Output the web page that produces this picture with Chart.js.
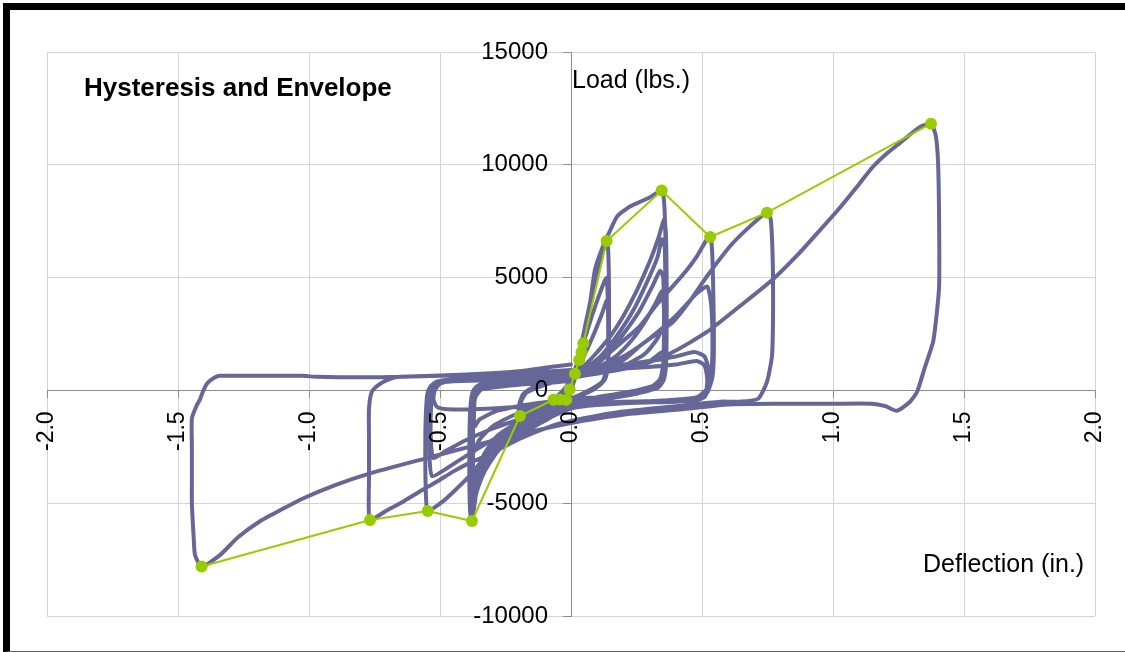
<!DOCTYPE html>
<html>
<head>
<meta charset="utf-8">
<title>Hysteresis and Envelope</title>
<script src="https://cdn.jsdelivr.net/npm/chart.js@4.4.1/dist/chart.umd.min.js"></script>
<style>
  html, body { margin: 0; padding: 0; background: #fff; }
  #frame {
    position: absolute; left: 3px; top: 3px; width: 1130px; height: 649px;
    box-sizing: border-box;
    border-left: 7px solid #000; border-top: 7px solid #000; border-bottom: 1px solid #606060;
  }
  #chart { position: absolute; left: 0; top: 0; }
</style>
</head>
<body>
<div id="frame"></div>
<canvas id="chart" width="1125" height="652"></canvas>
<script>
// Envelope points (deflection in., load lbs.)
const envDeflection = [1.374, 0.748, 0.531, 0.346, 0.136, 0.047, 0.040, 0.031, 0.015, -0.005, -0.018, -0.043, -0.067, -0.195, -0.378, -0.547, -0.767, -1.41];
const envLoad = [11820, 7880, 6800, 8860, 6620, 2090, 1690, 1350, 733, 40, -420, -400, -415, -1135, -5790, -5350, -5745, -7805];

// Hysteresis trace, one block per group of cycles: [deflection, load]
const cyclesSmall = [
  [0, 0], [0.008, 300], [0.015, 733], [0.01, 400], [0.0, 50], [-0.01, -200], [-0.018, -420], [-0.01, -250], [0.0, -50],
  [0.015, 600], [0.031, 1350], [0.022, 800], [0.005, 200], [-0.02, -250], [-0.043, -400], [-0.03, -300], [-0.01, -100],
  [0.01, 400], [0.025, 1100], [0.040, 1690], [0.03, 1000], [0.01, 400], [-0.02, -150], [-0.045, -330], [-0.067, -415],
  [-0.05, -300], [-0.02, 0], [0.01, 600], [0.03, 1400], [0.047, 2090], [0.04, 1500], [0.02, 800], [0.0, 300], [-0.04, -200]
];
const cycle1 = [
  [-0.06, -350], [-0.03, 0], [0.0, 450], [0.02, 1100], [0.04, 2000], [0.06, 3000], [0.08, 4100], [0.1, 5200], [0.115, 5900],
  [0.136, 6620], [0.142, 6200], [0.145, 4500], [0.145, 2500], [0.142, 1200], [0.13, 500], [0.1, 150], [0.05, -150], [0.0, -450],
  [-0.05, -650], [-0.1, -800], [-0.15, -950], [-0.195, -1135], [-0.2, -900], [-0.195, -500], [-0.18, -150], [-0.15, 100],
  [-0.1, 300], [-0.05, 450], [0.0, 650]
];
const cycle1Trail = [
  [0.02, 1100], [0.05, 2200], [0.08, 3300], [0.11, 4300], [0.135, 5000], [0.14, 4200], [0.142, 2500], [0.14, 1000], [0.12, 350],
  [0.08, 0], [0.0, -400], [-0.08, -650], [-0.15, -850], [-0.19, -950], [-0.195, -600], [-0.185, -200], [-0.15, 100], [-0.08, 350], [0.0, 600],
  [0.04, 1300], [0.08, 2300], [0.115, 3300], [0.138, 4000], [0.142, 3000], [0.14, 1200], [0.12, 400], [0.06, -50], [0.0, -350],
  [-0.1, -650], [-0.18, -850], [-0.19, -500], [-0.17, -100], [-0.1, 250], [0.0, 600]
];
const cycle2 = [
  [0.02, 1000], [0.035, 1800], [0.046, 2410], [0.06, 3200], [0.073, 3910], [0.092, 5370], [0.122, 6390], [0.15, 7100], [0.176, 7710],
  [0.225, 8150], [0.3, 8550], [0.346, 8860], [0.355, 8400], [0.36, 7000], [0.362, 5000], [0.362, 3000], [0.36, 1500], [0.35, 600],
  [0.32, 150], [0.25, -150], [0.15, -350], [0.05, -550], [0.0, -700], [-0.05, -1000], [-0.1, -1350], [-0.18, -1850], [-0.26, -2440],
  [-0.32, -3330], [-0.36, -4480], [-0.378, -5790], [-0.385, -5400], [-0.388, -4000], [-0.388, -2500], [-0.386, -1200], [-0.38, -300],
  [-0.37, 50], [-0.35, 250], [-0.3, 400], [-0.2, 550], [-0.1, 700], [0.0, 850]
];
const cycle2Trail = [
  [0.05, 1100], [0.1, 1700], [0.15, 2400], [0.2, 3300], [0.25, 4400], [0.3, 5700], [0.335, 6800], [0.355, 7580], [0.362, 7000],
  [0.365, 5000], [0.365, 2500], [0.362, 1000], [0.35, 400], [0.3, 0], [0.2, -250], [0.1, -450], [0.0, -650], [-0.1, -1200],
  [-0.2, -1900], [-0.28, -2700], [-0.33, -3600], [-0.36, -4500], [-0.375, -5300], [-0.382, -4800], [-0.385, -3000], [-0.383, -1200],
  [-0.378, -300], [-0.36, 100], [-0.3, 300], [-0.15, 500], [0.0, 700],
  [0.06, 1000], [0.12, 1600], [0.18, 2500], [0.24, 3600], [0.29, 4800], [0.33, 5900], [0.347, 6700], [0.358, 6300], [0.36, 4000],
  [0.36, 1800], [0.355, 700], [0.33, 200], [0.25, -100], [0.12, -350], [0.0, -600], [-0.1, -1100], [-0.2, -1700], [-0.28, -2400],
  [-0.33, -3200], [-0.36, -4100], [-0.372, -5000], [-0.38, -4500], [-0.382, -2800], [-0.38, -1000], [-0.372, -200], [-0.35, 150],
  [-0.28, 350], [-0.1, 550], [0.0, 700],
  [0.08, 1000], [0.14, 1600], [0.2, 2500], [0.26, 3500], [0.31, 4600], [0.34, 5300], [0.352, 5000], [0.355, 3000], [0.352, 1200],
  [0.34, 500], [0.3, 100], [0.2, -150], [0.08, -400], [0.0, -550], [-0.1, -1000], [-0.2, -1550], [-0.28, -2200], [-0.33, -3000],
  [-0.362, -3900], [-0.375, -4700], [-0.378, -3500], [-0.378, -1500], [-0.375, -400], [-0.36, 0], [-0.3, 250], [-0.15, 450], [0.0, 650],
  [0.1, 1000], [0.17, 1500], [0.23, 2200], [0.28, 3000], [0.32, 3800], [0.348, 4400], [0.355, 3500], [0.356, 2000], [0.352, 900],
  [0.33, 300], [0.25, 0], [0.1, -300], [0.0, -500], [-0.1, -900], [-0.2, -1400], [-0.28, -2000], [-0.33, -2800], [-0.36, -3600],
  [-0.372, -4200], [-0.374, -3000], [-0.373, -1200], [-0.368, -300], [-0.35, 50], [-0.28, 250], [-0.12, 450], [0.0, 600],
  [0.1, 800], [0.2, 1100], [0.28, 1600], [0.33, 2300], [0.352, 2800], [0.358, 2000], [0.356, 900], [0.34, 300], [0.28, 0],
  [0.15, -250], [0.0, -450], [-0.12, -700], [-0.22, -1100], [-0.3, -1600], [-0.35, -2200], [-0.37, -2700], [-0.375, -1800],
  [-0.373, -700], [-0.365, -100], [-0.33, 150], [-0.2, 350], [0.0, 550],
  [0.1, 750], [0.2, 950], [0.3, 1300], [0.35, 1700], [0.358, 1200], [0.355, 500], [0.33, 100], [0.2, -200], [0.0, -400],
  [-0.15, -600], [-0.28, -900], [-0.35, -1300], [-0.368, -1600], [-0.37, -900], [-0.365, -300], [-0.34, 50], [-0.2, 250], [0.0, 450]
];
const cycle3 = [
  [0.05, 1000], [0.1, 1300], [0.15, 1700], [0.2, 2200], [0.263, 2850], [0.32, 3700], [0.389, 4620], [0.44, 5300], [0.481, 5950],
  [0.519, 6700], [0.531, 6800], [0.538, 6300], [0.542, 5000], [0.545, 3000], [0.545, 1500], [0.54, 600], [0.52, -100], [0.48, -400],
  [0.4, -500], [0.25, -550], [0.1, -650], [0.0, -800], [-0.08, -1200], [-0.16, -1700], [-0.25, -2300], [-0.33, -3000], [-0.385, -3770],
  [-0.44, -4400], [-0.489, -4920], [-0.547, -5350], [-0.553, -4800], [-0.556, -3500], [-0.556, -2000], [-0.553, -800], [-0.548, -150],
  [-0.535, 200], [-0.51, 400], [-0.45, 500], [-0.3, 600], [-0.15, 700], [0.0, 850]
];
const cycle3Trail = [
  [0.1, 1000], [0.2, 1500], [0.3, 2300], [0.4, 3300], [0.48, 4300], [0.52, 4600], [0.535, 3800], [0.54, 2000], [0.535, 800],
  [0.52, 100], [0.48, -300], [0.35, -450], [0.15, -550], [0.0, -700], [-0.1, -1100], [-0.2, -1600], [-0.3, -2200], [-0.4, -2900],
  [-0.48, -3500], [-0.53, -3800], [-0.54, -3000], [-0.54, -1500], [-0.537, -400], [-0.527, 100], [-0.5, 350], [-0.4, 450],
  [-0.2, 550], [0.0, 750],
  [0.1, 1000], [0.2, 1150], [0.3, 1300], [0.4, 1500], [0.47, 1700], [0.51, 1500], [0.525, 900], [0.525, 200], [0.51, -300],
  [0.47, -450], [0.35, -500], [0.2, -550], [0.05, -650], [0.0, -750], [-0.1, -1000], [-0.2, -1300], [-0.3, -1700], [-0.4, -2200],
  [-0.48, -2700], [-0.525, -3000], [-0.535, -2200], [-0.535, -1000], [-0.53, -200], [-0.515, 200], [-0.48, 380], [-0.35, 450],
  [-0.15, 600], [0.0, 800],
  [0.1, 900], [0.25, 1000], [0.4, 1150], [0.48, 1300], [0.51, 1100], [0.52, 500], [0.515, -100], [0.49, -350], [0.4, -450],
  [0.2, -500], [0.0, -600], [-0.15, -700], [-0.3, -800], [-0.45, -850], [-0.51, -750], [-0.525, -400], [-0.52, 0], [-0.5, 300],
  [-0.45, 400], [-0.3, 450], [-0.1, 550], [0.0, 700]
];
const cycle4 = [
  [0.1, 1000], [0.2, 1350], [0.263, 1970], [0.32, 2450], [0.389, 3030], [0.45, 3900], [0.519, 5060], [0.607, 6390], [0.683, 7270],
  [0.748, 7880], [0.762, 7600], [0.768, 6500], [0.771, 5000], [0.771, 3030], [0.767, 1520], [0.748, 380], [0.714, -370], [0.645, -500],
  [0.57, -500], [0.4, -700], [0.19, -950], [0.0, -1350], [-0.07, -1560], [-0.195, -2140], [-0.32, -2880], [-0.385, -3200],
  [-0.45, -3600], [-0.511, -4040], [-0.58, -4500], [-0.64, -4920], [-0.7, -5300], [-0.767, -5745], [-0.772, -5200], [-0.771, -3780],
  [-0.771, -2200], [-0.771, -810], [-0.76, -60], [-0.729, 292], [-0.69, 512], [-0.653, 600], [-0.5, 650], [-0.3, 720],
  [-0.15, 800], [0.0, 900]
];
const cycle5 = [
  [0.1, 950], [0.2, 1000], [0.263, 1090], [0.389, 1700], [0.519, 2590], [0.645, 3740], [0.771, 4930], [0.874, 6120], [0.95, 7100],
  [1.027, 8110], [1.09, 9000], [1.149, 9870], [1.2, 10450], [1.256, 10970], [1.332, 11680], [1.374, 11820], [1.392, 11300],
  [1.401, 10100], [1.405, 7500], [1.405, 4620], [1.395, 3300], [1.382, 2150], [1.35, 1000], [1.321, -60], [1.294, -500],
  [1.244, -900], [1.2, -700], [1.149, -590], [1.0, -590], [0.8, -590], [0.6, -620], [0.45, -800], [0.237, -1030], [0.1, -1250],
  [0.0, -1450], [-0.2, -1950], [-0.385, -2490], [-0.55, -3000], [-0.767, -3680], [-0.9, -4200], [-1.023, -4790], [-1.1, -5250],
  [-1.187, -5800], [-1.27, -6500], [-1.34, -7300], [-1.41, -7805], [-1.435, -7300], [-1.44, -6550], [-1.447, -5000],
  [-1.447, -3900], [-1.447, -2500], [-1.447, -1250], [-1.43, -700], [-1.416, -400], [-1.405, -60], [-1.39, 290], [-1.37, 500],
  [-1.34, 645], [-1.2, 645], [-1.023, 645], [-0.969, 600], [-0.8, 580], [-0.653, 600], [-0.4, 700], [-0.2, 850], [-0.08, 1040], [0.0, 1150]
];

// Axis ticks
const xTicks = [-2.0, -1.5, -1.0, -0.5, 0.0, 0.5, 1.0, 1.5, 2.0];
const yTicks = [-10000, -5000, 0, 5000, 10000, 15000];

const FONT = "'Liberation Sans', Arial, sans-serif";

const hysteresis = [].concat(cyclesSmall, cycle1, cycle1Trail, cycle2, cycle2Trail, cycle3, cycle3Trail, cycle4, cycle5)
  .map(p => ({ x: p[0], y: p[1] }));
const envelope = envDeflection.map((d, i) => ({ x: d, y: envLoad[i] }));

// Axes cross inside the plot, so they should not push the plot edges in
function noEdgePadding(scale) {
  scale.paddingLeft = 0;
  scale.paddingRight = 0;
  scale.paddingTop = 0;
  scale.paddingBottom = 0;
}

// Chart captions drawn inside the plot area
const captions = {
  id: 'captions',
  afterDraw(chart) {
    const ctx = chart.ctx;
    ctx.save();
    ctx.fillStyle = '#000';
    ctx.textAlign = 'left';
    ctx.textBaseline = 'alphabetic';
    ctx.font = 'bold 26px ' + FONT;
    ctx.fillText('Hysteresis and Envelope', 84, 96);
    ctx.font = '25px ' + FONT;
    ctx.fillText('Load (lbs.)', 572, 88);
    ctx.fillText('Deflection (in.)', 923, 572);
    ctx.restore();
  }
};

new Chart(document.getElementById('chart'), {
  type: 'scatter',
  data: {
    datasets: [{
      label: 'Envelope',
      data: envelope,
      showLine: true,
      borderColor: '#99cc00',
      backgroundColor: '#99cc00',
      borderWidth: 2,
      pointRadius: 6,
      pointBorderWidth: 0,
      pointBackgroundColor: '#99cc00'
    }, {
      label: 'Hysteresis',
      data: hysteresis,
      showLine: true,
      borderColor: '#666699',
      borderWidth: 4,
      pointRadius: 0,
      tension: 0.2,
      borderJoinStyle: 'round',
      borderCapStyle: 'round'
    }]
  },
  options: {
    responsive: false,
    animation: false,
    devicePixelRatio: 1,
    layout: { padding: { left: 47, right: 30, top: 52, bottom: 36 } },
    plugins: {
      legend: { display: false },
      tooltip: { enabled: false }
    },
    scales: {
      x: {
        type: 'linear',
        position: { y: 0 },
        min: -2,
        max: 2,
        afterBuildTicks: (scale) => { scale.ticks = xTicks.map(v => ({ value: v })); },
        afterFit: noEdgePadding,
        ticks: {
          z: 1,
          color: '#000',
          font: { family: FONT, size: 23 },
          padding: 14,
          minRotation: 90,
          maxRotation: 90,
          autoSkip: false,
          callback: (v) => Number(v).toFixed(1)
        },
        grid: { color: '#d4d4d4', lineWidth: 1, tickLength: 7, tickColor: '#8c8c8c' },
        border: { color: '#8c8c8c', width: 1 }
      },
      y: {
        type: 'linear',
        position: 'center',
        min: -10000,
        max: 15000,
        afterBuildTicks: (scale) => { scale.ticks = yTicks.map(v => ({ value: v })); },
        afterFit: noEdgePadding,
        ticks: {
          z: 1,
          color: '#000',
          font: { family: FONT, size: 24 },
          padding: 15,
          callback: (v) => String(v)
        },
        grid: { color: '#d4d4d4', lineWidth: 1, tickLength: 8, tickColor: '#8c8c8c' },
        border: { color: '#8c8c8c', width: 1 }
      }
    }
  },
  plugins: [captions]
});
</script>
</body>
</html>
